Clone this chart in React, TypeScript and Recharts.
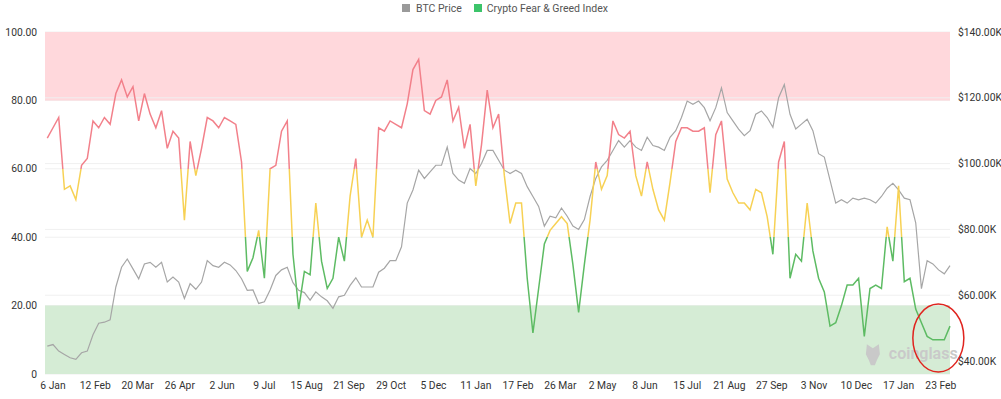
import React from 'react';
import {
	ComposedChart,
	Line,
	XAxis,
	YAxis,
	CartesianGrid,
	ReferenceArea,
	ReferenceLine,
	ReferenceDot,
} from 'recharts';

const tickLabels = [
	'6 Jan', '12 Feb', '20 Mar', '26 Apr', '2 Jun', '9 Jul', '15 Aug', '21 Sep',
	'29 Oct', '5 Dec', '11 Jan', '17 Feb', '26 Mar', '2 May', '8 Jun', '15 Jul',
	'21 Aug', '27 Sep', '3 Nov', '10 Dec', '17 Jan', '23 Feb',
];

// one value every 5 days, starting 5 days before 6 Jan
const fearGreed = [
	69, 72, 75, 54, 55, 51, 61, 63, 74, 72, 75, 73, 82, 86, 81, 84, 74, 82, 76, 72, 77, 66, 71, 69, 45, 68,
	58, 66, 75, 74, 72, 75, 74, 73, 62, 30, 34, 42, 28, 60, 61, 71, 74, 35, 19, 30, 29, 50, 33, 25, 28, 40,
	33, 52, 63, 40, 45, 40, 72, 71, 74, 73, 72, 79, 89, 92, 77, 76, 80, 81, 86, 74, 78, 66, 73, 55, 67, 83, 72,
	76, 58, 44, 50, 50, 28, 12, 25, 38, 42, 44, 46, 44, 32, 18, 32, 45, 62, 54, 58, 74, 70, 69, 71, 58, 52,
	62, 54, 48, 45, 56, 68, 72, 72, 71, 71, 72, 53, 70, 74, 57, 53, 50, 50, 48, 54, 53, 46, 35, 62, 68, 28,
	35, 33, 50, 36, 28, 24, 14, 15, 20, 26, 26, 28, 11, 25, 26, 25, 43, 33, 55, 27, 28, 19, 15, 11, 10, 10, 10, 14,
];

// BTC price in $K
const btcPrice = [
	44.5, 45, 43, 42, 41, 40.5, 42.5, 43, 48, 51.5, 51.8, 52.5, 62.5, 68.5, 71, 68, 65, 69.5, 70, 68.5, 70, 64, 65.5, 64, 59, 63.5,
	61.8, 64, 70.5, 69, 68.5, 70, 69.2, 67.5, 65, 61.5, 61.6, 57.5, 58, 61.6, 66, 67.7, 68.5, 63.8, 61.5, 60.8, 58.5, 61, 59.5, 58.3, 56, 59.5,
	60, 63, 65.3, 62.5, 62.5, 62.5, 67, 68.2, 70.5, 70.5, 74.7, 88, 92, 98, 95.5, 97.5, 99.5, 99.5, 105, 97, 95, 94, 98.5, 97, 100, 104, 104,
	101, 98, 97, 98, 97, 93, 90, 87, 81, 84, 83.5, 86.5, 84, 81, 80, 83, 90, 95.5, 99, 101, 104, 107, 105, 107, 105, 104,
	108, 105.5, 105, 104, 108, 110, 114, 119, 118, 119, 117, 113, 117, 123, 115.5, 113, 110.5, 108.5, 110, 115, 116, 114, 111, 120, 124, 115,
	110.5, 112, 113.5, 110, 103, 102, 95, 88, 89, 88, 89.5, 89, 89.5, 89, 88, 90, 92.5, 94, 92, 89.5, 89, 82, 62, 70.5, 69.5, 67.7, 66.5, 69,
];

const leftTicks = [0, 20, 40, 60, 80, 100];
const rightTicks = [40, 60, 80, 100, 120, 140];

const data = fearGreed.map((v, i) => ({
	day: -5 + i * 5,
	fg: v,
	btc: btcPrice[i],
}));

const FONT = 'Roboto, "Noto Sans", sans-serif';
const tickStyle = { fill: '#333', fontSize: 10.3, fontFamily: FONT };

const PLOT_TOP = 32;
const PLOT_BOTTOM = 374;

const App: React.FC = () => {
	return (
		<div
			style={{
				position: 'absolute',
				left: 0,
				top: 0,
				width: 1001,
				height: 399,
				background: '#fff',
				fontFamily: FONT,
			}}
		>
			<div
				style={{
					position: 'absolute',
					left: 402,
					top: 0,
					height: 16,
					display: 'flex',
					alignItems: 'center',
					fontSize: 10.5,
					color: '#555',
					whiteSpace: 'nowrap',
				}}
			>
				<span style={{ width: 8, height: 8, background: '#9a9a9a', display: 'inline-block', marginRight: 6 }} />
				<span style={{ marginRight: 12 }}>BTC Price</span>
				<span style={{ width: 8, height: 8, background: '#3cc46a', display: 'inline-block', marginRight: 5 }} />
				<span>Crypto Fear &amp; Greed Index</span>
			</div>
			<ComposedChart
				width={1001}
				height={399}
				data={data}
				margin={{ top: PLOT_TOP, right: 0, left: 0, bottom: 5 }}
			>
				<defs>
					<linearGradient
						id='fgStroke'
						gradientUnits='userSpaceOnUse'
						x1={0}
						y1={PLOT_TOP}
						x2={0}
						y2={PLOT_BOTTOM}
					>
						<stop offset='0' stopColor='#f2808a' />
						<stop offset='0.4' stopColor='#f2808a' />
						<stop offset='0.4' stopColor='#f7d154' />
						<stop offset='0.6' stopColor='#f7d154' />
						<stop offset='0.6' stopColor='#5dbb63' />
						<stop offset='1' stopColor='#5dbb63' />
					</linearGradient>
				</defs>
				<CartesianGrid vertical={false} yAxisId='left' stroke='#f0f0f0' />
				<XAxis
					dataKey='day'
					type='number'
					domain={[-7, 785]}
					ticks={tickLabels.map((_, i) => i * 37)}
					tickFormatter={(v: number) => tickLabels[Math.round(v / 37)]}
					axisLine={false}
					tickLine={false}
					tick={tickStyle}
					height={20}
					interval={0}
				/>
				<YAxis
					yAxisId='left'
					domain={[0, 100]}
					ticks={leftTicks}
					tickFormatter={(v: number) => (v === 0 ? '0' : v.toFixed(2))}
					axisLine={false}
					tickLine={false}
					tick={tickStyle}
					width={45}
				/>
				<YAxis
					yAxisId='right'
					orientation='right'
					domain={[36.05, 140]}
					ticks={rightTicks}
					tickFormatter={(v: number) => `$${v.toFixed(2)}K`}
					axisLine={false}
					tickLine={false}
					tick={tickStyle}
					width={51}
					allowDataOverflow
				/>
				<ReferenceArea yAxisId='left' y1={80} y2={100} fill='#ffd8dc' fillOpacity={1} />
				<ReferenceArea yAxisId='left' y1={0} y2={20} fill='#d5ecd5' fillOpacity={1} />
				{[60, 80, 100, 120].map((v) => (
					<ReferenceLine key={v} yAxisId='right' y={v} stroke='#f0f0f0' />
				))}
				<ReferenceDot
					yAxisId='left'
					x={731.5}
					y={6.1}
					shape={(p: any) => (
						<g>
							<path
								d={`M${p.cx - 22},${p.cy - 9} l6,4 l6,-4 l1,10 l-3,6 l-2,5 l-4,0 l-2,-5 l-3,-6 z`}
								fill='#c9c9c9'
							/>
							<text
								x={p.cx}
								y={p.cy}
								dominantBaseline='central'
								fontSize={16}
								fontWeight={600}
								fill='#c9c9c9'
								fontFamily={FONT}
							>
								coinglass
							</text>
						</g>
					)}
				/>
				<Line
					yAxisId='right'
					type='linear'
					dataKey='btc'
					stroke='#a6a6a6'
					strokeWidth={1.2}
					dot={false}
					isAnimationActive={false}
				/>
				<Line
					yAxisId='left'
					type='linear'
					dataKey='fg'
					stroke='url(#fgStroke)'
					strokeWidth={1.5}
					dot={false}
					isAnimationActive={false}
				/>
				<ReferenceDot
					yAxisId='left'
					x={774.8}
					y={10.5}
					ifOverflow='visible'
					shape={(p: any) => (
						<ellipse
							cx={p.cx}
							cy={p.cy}
							rx={25.5}
							ry={34}
							fill='none'
							stroke='#e0241f'
							strokeWidth={1.5}
						/>
					)}
				/>
			</ComposedChart>
		</div>
	);
};

export default App;
